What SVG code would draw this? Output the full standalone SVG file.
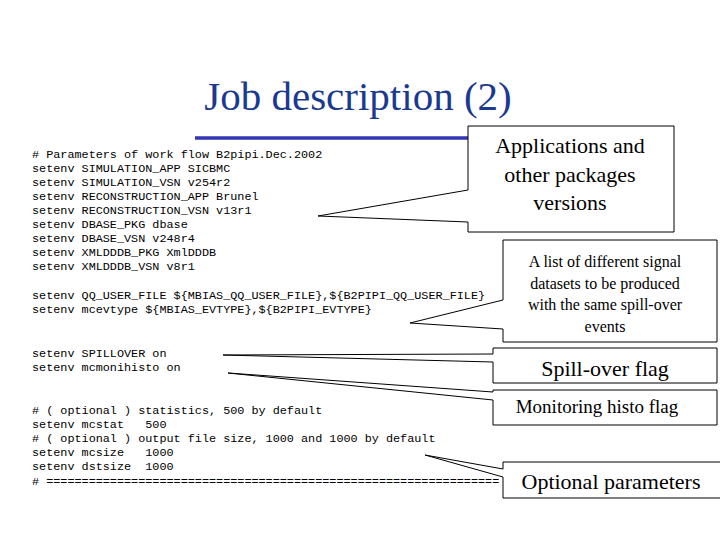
<svg xmlns="http://www.w3.org/2000/svg" width="720" height="540" viewBox="0 0 720 540">
<style>
.c{font-family:"Liberation Mono",monospace;font-size:11.8px;fill:#000;white-space:pre}
.s{font-family:"Liberation Serif",serif;fill:#000;text-anchor:middle}
.co{fill:#fff;stroke:#000;stroke-width:1}
</style>
<rect width="720" height="540" fill="#fff"/>
<text x="358" y="110" font-family="Liberation Serif,serif" font-size="41" fill="#1a3a8f" text-anchor="middle">Job description (2)</text>
<line x1="195" y1="138" x2="478" y2="138" stroke="#3535b5" stroke-width="3.5"/>
<g id="code">
<text class="c" x="32" y="158"># Parameters of work flow B2pipi.Dec.2002</text>
<text class="c" x="32" y="172">setenv SIMULATION_APP SICBMC</text>
<text class="c" x="32" y="186">setenv SIMULATION_VSN v254r2</text>
<text class="c" x="32" y="200">setenv RECONSTRUCTION_APP Brunel</text>
<text class="c" x="32" y="214">setenv RECONSTRUCTION_VSN v13r1</text>
<text class="c" x="32" y="228">setenv DBASE_PKG dbase</text>
<text class="c" x="32" y="242">setenv DBASE_VSN v248r4</text>
<text class="c" x="32" y="256">setenv XMLDDDB_PKG XmlDDDB</text>
<text class="c" x="32" y="270">setenv XMLDDDB_VSN v8r1</text>
<text class="c" x="32" y="299">setenv QQ_USER_FILE ${MBIAS_QQ_USER_FILE},${B2PIPI_QQ_USER_FILE}</text>
<text class="c" x="32" y="313">setenv mcevtype ${MBIAS_EVTYPE},${B2PIPI_EVTYPE}</text>
<text class="c" x="32" y="357">setenv SPILLOVER on</text>
<text class="c" x="32" y="371">setenv mcmonihisto on</text>
<text class="c" x="32" y="414"># ( optional ) statistics, 500 by default</text>
<text class="c" x="32" y="428">setenv mcstat   500</text>
<text class="c" x="32" y="442"># ( optional ) output file size, 1000 and 1000 by default</text>
<text class="c" x="32" y="456">setenv mcsize   1000</text>
<text class="c" x="32" y="470">setenv dstsize  1000</text>
<text class="c" x="32" y="485"># ================================================================</text>
</g>
<g id="connectors">
<path class="co" d="M468,126 H674 V232 H468 V222 L318,216 L468,190 Z"/>
<path class="co" d="M503,240 H717 V342 H503 V329 L410,323 L503,300 Z"/>
<path class="co" d="M493,348 H717 V383 H493 V362 L223,355 L493,354 Z"/>
<path class="co" d="M493,390 H717 V425 H493 V400 L228,373 L493,392 Z"/>
<path class="co" d="M503,462 H722 V498 H503 V477 L425,455 L503,469 Z"/>
</g>
<g id="n1"><text class="s" font-size="22"><tspan x="570" y="153">Applications and</tspan><tspan x="570" y="182">other packages</tspan><tspan x="570" y="210">versions</tspan></text></g>
<g id="n2"><text class="s" font-size="16"><tspan x="605" y="267">A list of different signal</tspan><tspan x="605" y="289">datasets to be produced</tspan><tspan x="605" y="310">with the same spill-over</tspan><tspan x="605" y="332">events</tspan></text></g>
<g id="n3"><text class="s" font-size="22" x="605" y="376">Spill-over flag</text></g>
<g id="n4"><text class="s" font-size="19" x="597" y="413">Monitoring histo flag</text></g>
<g id="n5"><text class="s" font-size="22" x="611" y="489">Optional parameters</text></g>
</svg>
